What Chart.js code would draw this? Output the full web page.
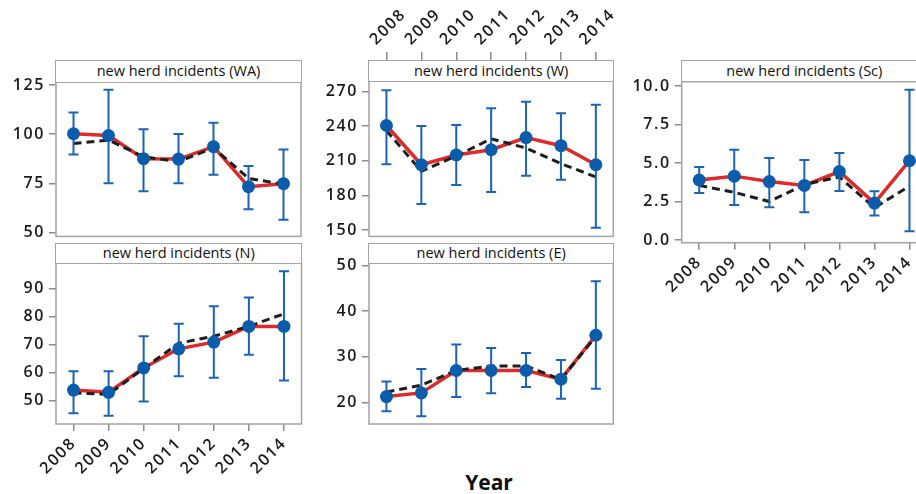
<!DOCTYPE html>
<html><head><meta charset="utf-8">
<script src="https://cdn.jsdelivr.net/npm/chart.js@4.4.1/dist/chart.umd.min.js"></script>
<style>
html,body{margin:0;padding:0;width:916px;height:494px;overflow:hidden;background:#fff;}
body{position:relative;}
canvas{position:absolute;}
.strip{position:absolute;box-sizing:border-box;border:1.5px solid #a3a3a3;background:#fff;font:14.5px 'Open Sans',sans-serif;color:#111;text-align:center;z-index:5;white-space:nowrap;}
#xtitle{position:absolute;left:389px;width:200px;top:468px;text-align:center;font:bold 21px 'Open Sans',sans-serif;color:#111;}
</style></head>
<body>
<div id="xtitle">Year</div>
<script>
// ---- data ----
const years = ['2008','2009','2010','2011','2012','2013','2014'];

const waObs = [100.2, 99.3, 87.5, 87.3, 93.6, 73.3, 74.8];
const waFit = [95.2, 97.0, 88.5, 86.0, 93.0, 77.5, 74.5];
const waLo  = [89.7, 75.0, 71.0, 75.0, 79.3, 61.8, 56.5];
const waHi  = [111.0, 122.5, 102.5, 100.0, 105.8, 83.8, 92.2];
const waTicks = [50, 75, 100, 125];

const wObs = [240.5, 206.5, 215.0, 219.5, 230.0, 223.0, 206.5];
const wFit = [236.0, 201.0, 214.0, 229.0, 221.0, 207.5, 196.0];
const wLo  = [207.0, 172.5, 189.0, 183.0, 197.0, 193.5, 152.0];
const wHi  = [271.0, 240.0, 241.0, 255.5, 261.0, 251.0, 258.5];
const wTicks = [150, 180, 210, 240, 270];

const scObs = [3.90, 4.15, 3.80, 3.55, 4.45, 2.40, 5.15];
const scFit = [3.55, 3.10, 2.50, 3.60, 4.10, 2.10, 3.50];
const scLo  = [3.05, 2.28, 2.13, 1.80, 3.18, 1.60, 0.58];
const scHi  = [4.75, 5.87, 5.32, 5.20, 5.65, 3.17, 9.75];
const scTicks = [0, 2.5, 5, 7.5, 10];

const nObs = [53.8, 53.0, 61.7, 68.5, 70.9, 76.5, 76.5];
const nFit = [52.8, 52.3, 61.5, 70.5, 73.0, 76.5, 81.0];
const nLo  = [45.5, 44.6, 49.7, 58.7, 58.2, 66.4, 57.2];
const nHi  = [60.5, 60.5, 73.0, 77.4, 83.7, 86.8, 96.2];
const nTicks = [50, 60, 70, 80, 90];

const eObs = [21.3, 22.1, 27.0, 27.0, 27.0, 25.1, 34.7];
const eFit = [22.3, 23.8, 27.0, 28.0, 28.0, 25.0, 34.5];
const eLo  = [18.1, 17.0, 21.2, 22.0, 23.4, 20.8, 23.0];
const eHi  = [24.6, 27.3, 32.7, 31.9, 30.8, 29.3, 46.5];
const eTicks = [20, 30, 40, 50];

// ---- styling ----
const GREY = '#a3a3a3';
const TICKFONT = {family:"'Open Sans', sans-serif", size:16, weight:'600'};
const TICKCOLOR = '#1a1a1a';

const panelPlugin = {
  id: 'panelPlugin',
  beforeDraw(chart){ chart.ctx.letterSpacing = '1.6px'; },
  beforeDatasetDraw(chart, args){
    const ds = chart.data.datasets[args.index];
    if (!ds.errLo) return;
    const ctx = chart.ctx, xs = chart.scales.x, ys = chart.scales.y;
    ctx.save();
    ctx.strokeStyle = '#1b63b5'; ctx.lineWidth = 2; ctx.lineCap = 'butt';
    ds.errLo.forEach((lo, i) => {
      const px = xs.getPixelForValue(i);
      const pl = ys.getPixelForValue(lo), ph = ys.getPixelForValue(ds.errHi[i]);
      ctx.beginPath();
      ctx.moveTo(px, ph); ctx.lineTo(px, pl);
      ctx.moveTo(px-5, ph); ctx.lineTo(px+5, ph);
      ctx.moveTo(px-5, pl); ctx.lineTo(px+5, pl);
      ctx.stroke();
    });
    ctx.restore();
  },
  afterDraw(chart){
    const a = chart.chartArea, ctx = chart.ctx;
    ctx.save(); ctx.strokeStyle = GREY; ctx.lineWidth = 1.5;
    ctx.strokeRect(a.left, a.top, a.right - a.left, a.bottom - a.top);
    ctx.restore();
  }
};

function makePanel(p){
  const cv = document.createElement('canvas');
  cv.width = p.cw; cv.height = p.ch;
  cv.style.left = p.cx + 'px'; cv.style.top = p.cy + 'px';
  cv.style.width = p.cw + 'px'; cv.style.height = p.ch + 'px';
  document.body.appendChild(cv);

  const s = document.createElement('div');
  s.className = 'strip';
  s.textContent = p.title;
  s.style.left = (p.pl - 0.75) + 'px';
  s.style.width = (p.pr - p.pl + 1.5) + 'px';
  s.style.top = p.stripTop + 'px';
  s.style.height = (p.pt - p.stripTop + 0.75) + 'px';
  s.style.lineHeight = (p.pt - p.stripTop - 2) + 'px';
  document.body.appendChild(s);

  const yW = p.pl - p.cx;
  const xCfg = {
    type:'category', offset:true, display: p.xPos !== 'none',
    position: p.xPos === 'top' ? 'top' : 'bottom',
    grid:{drawOnChartArea:false, drawTicks:true, offset:false, tickLength: p.xTickLen || 7, color:'#8c8c8c', lineWidth:1.5},
    border:{display:false},
    ticks:{minRotation:45, maxRotation:45, autoSkip:false, padding:3, font:TICKFONT, color:TICKCOLOR},
  };
  let pad = {left:0, right: p.cx + p.cw - p.pr, top:0, bottom:0};
  if (p.xPos === 'top') {
    xCfg.afterFit = sc => { sc.height = p.pt - p.cy; };
    pad.bottom = p.cy + p.ch - p.pb;
  } else if (p.xPos === 'bottom') {
    xCfg.afterFit = sc => { sc.height = p.cy + p.ch - p.pb; };
    pad.top = p.pt - p.cy;
  } else {
    pad.top = p.pt - p.cy;
    pad.bottom = p.cy + p.ch - p.pb;
  }

  new Chart(cv, {
    type:'line',
    data:{
      labels: years,
      datasets:[
        {data:p.obs, showLine:false, pointRadius:6.5, pointHoverRadius:6.5, pointBackgroundColor:'#0b5cab', pointBorderWidth:0, errLo:p.lo, errHi:p.hi, order:0},
        {data:p.fit, borderColor:'#1e1e1e', borderWidth:3, borderDash:[8,5], pointRadius:0, tension:0, order:1},
        {data:p.obs, borderColor:'#dd2b2b', borderWidth:3.5, pointRadius:0, tension:0, order:2},
      ]
    },
    options:{
      responsive:false, animation:false, devicePixelRatio:1,
      layout:{padding:pad},
      plugins:{legend:{display:false}, tooltip:{enabled:false}, title:{display:false}},
      scales:{
        x: xCfg,
        y:{
          min:p.min, max:p.max,
          afterBuildTicks: sc => { sc.ticks = p.ticks.map(v => ({value:v})); },
          afterFit: sc => { sc.width = yW; },
          grid:{drawOnChartArea:false, drawTicks:true, tickLength:7, color:'#8c8c8c', lineWidth:1.5},
          border:{display:false},
          ticks:{font:TICKFONT, color:TICKCOLOR, padding:4, callback: v => p.fmt ? p.fmt(v) : String(v)}
        }
      }
    },
    plugins:[panelPlugin]
  });
}

makePanel({title:'new herd incidents (WA)', obs:waObs, fit:waFit, lo:waLo, hi:waHi, ticks:waTicks, min:48, max:126.5,
  cx:0, cy:50, cw:310, ch:200, pl:56, pr:301, pt:82, pb:242, stripTop:60, xPos:'none'});
makePanel({title:'new herd incidents (N)', obs:nObs, fit:nFit, lo:nLo, hi:nHi, ticks:nTicks, min:41.7, max:99.1,
  cx:0, cy:240, cw:310, ch:254, pl:56, pr:301.5, pt:263, pb:424, stripTop:243, xPos:'bottom'});
makePanel({title:'new herd incidents (W)', obs:wObs, fit:wFit, lo:wLo, hi:wHi, ticks:wTicks, min:144.5, max:279,
  cx:310, cy:0, cw:330, ch:250, pl:369, pr:613.3, pt:81, pb:242, stripTop:60, xPos:'top', xTickLen:29});
makePanel({title:'new herd incidents (E)', obs:eObs, fit:eFit, lo:eLo, hi:eHi, ticks:eTicks, min:15.3, max:50.5,
  cx:310, cy:240, cw:310, ch:200, pl:369, pr:613.3, pt:263, pb:424, stripTop:243, xPos:'none'});
makePanel({title:'new herd incidents (Sc)', obs:scObs, fit:scFit, lo:scLo, hi:scHi, ticks:scTicks, min:-0.17, max:10.28,
  cx:620, cy:50, cw:320, ch:250, pl:681.7, pr:927, pt:81.7, pb:242.7, stripTop:60, xPos:'bottom', fmt: v => v.toFixed(1)});
</script>
</body></html>
